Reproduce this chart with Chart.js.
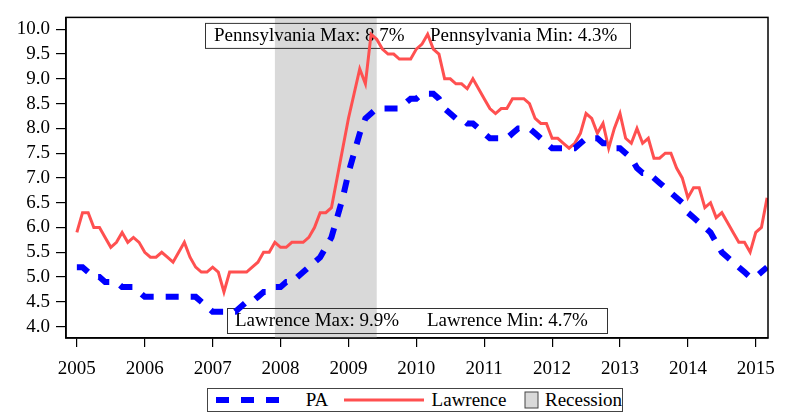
<!DOCTYPE html>
<html>
<head>
<meta charset="utf-8">
<script src="https://cdn.jsdelivr.net/npm/chart.js@4"></script>
<style>
    body { margin: 0; background: #fff; }
    #wrap { position: relative; width: 788px; height: 413px; }
    #legend {
        position: absolute; left: 207px; top: 388px; width: 416px; height: 24px;
        box-sizing: border-box; border: 1px solid #444;
        display: flex; align-items: center;
        font: 19px "Liberation Serif", serif; color: #000;
    }
    #legend span { white-space: nowrap; }
</style>
</head>
<body>
<div id="wrap">
    <canvas id="rateChart" width="788" height="383"></canvas>
    <div id="legend">
        <svg width="70" height="10" style="margin-left:8px"><line x1="0" y1="5" x2="70" y2="5" stroke="#0000ff" stroke-width="6" stroke-dasharray="13 12"/></svg>
        <span style="margin-left:22px">PA</span>
        <svg width="82" height="10" style="margin-left:16px"><line x1="0" y1="5" x2="82" y2="5" stroke="#ff5050" stroke-width="3"/></svg>
        <span style="margin-left:8px">Lawrence</span>
        <svg width="16" height="18" style="margin-left:18px"><rect x="1" y="1" width="13" height="16" fill="#d9d9d9" stroke="#444" stroke-width="1"/></svg>
        <span style="margin-left:5px">Recession</span>
    </div>
</div>
<script>
const startYear = 2005;

// monthly unemployment rate, Jan 2005 - Mar 2015
const paRate = [
    5.2, 5.2, 5.1, 5.0, 5.0, 4.9, 4.9, 4.9, 4.8, 4.8, 4.8, 4.7,
    4.6, 4.6, 4.6, 4.6, 4.6, 4.6, 4.6, 4.6, 4.6, 4.6, 4.5, 4.4,
    4.3, 4.3, 4.3, 4.3, 4.3, 4.4, 4.5, 4.5, 4.6, 4.7, 4.7, 4.8,
    4.8, 4.9, 4.9, 5.0, 5.1, 5.2, 5.3, 5.4, 5.6, 5.8, 6.2, 6.6,
    7.1, 7.5, 7.9, 8.2, 8.3, 8.4, 8.4, 8.4, 8.4, 8.4, 8.5, 8.6,
    8.6, 8.7, 8.7, 8.7, 8.6, 8.4, 8.3, 8.2, 8.2, 8.1, 8.1, 8.0,
    7.9, 7.8, 7.8, 7.8, 7.8, 7.9, 8.0, 8.0, 8.0, 7.9, 7.8, 7.7,
    7.6, 7.6, 7.6, 7.6, 7.6, 7.7, 7.8, 7.8, 7.8, 7.7, 7.7, 7.6,
    7.6, 7.5, 7.4, 7.2, 7.1, 7.1, 7.0, 6.9, 6.8, 6.7, 6.6, 6.5,
    6.3, 6.2, 6.1, 6.0, 5.9, 5.7, 5.5, 5.4, 5.3, 5.2, 5.1, 5.0,
    5.0, 5.1, 5.2
];

const lawrenceRate = [
    5.9, 6.3, 6.3, 6.0, 6.0, 5.8, 5.6, 5.7, 5.9, 5.7, 5.8, 5.7,
    5.5, 5.4, 5.4, 5.5, 5.4, 5.3, 5.5, 5.7, 5.4, 5.2, 5.1, 5.1,
    5.2, 5.1, 4.7, 5.1, 5.1, 5.1, 5.1, 5.2, 5.3, 5.5, 5.5, 5.7,
    5.6, 5.6, 5.7, 5.7, 5.7, 5.8, 6.0, 6.3, 6.3, 6.4, 7.0, 7.6,
    8.2, 8.7, 9.2, 8.9, 9.9, 9.8, 9.6, 9.5, 9.5, 9.4, 9.4, 9.4,
    9.6, 9.7, 9.9, 9.6, 9.5, 9.0, 9.0, 8.9, 8.9, 8.8, 9.0, 8.8,
    8.6, 8.4, 8.3, 8.4, 8.4, 8.6, 8.6, 8.6, 8.5, 8.2, 8.1, 8.1,
    7.8, 7.8, 7.7, 7.6, 7.7, 7.9, 8.3, 8.2, 7.9, 8.1, 7.6, 8.0,
    8.3, 7.8, 7.7, 8.0, 7.7, 7.8, 7.4, 7.4, 7.5, 7.5, 7.2, 7.0,
    6.6, 6.8, 6.8, 6.4, 6.5, 6.2, 6.3, 6.1, 5.9, 5.7, 5.7, 5.5,
    5.9, 6.0, 6.6
];

const yearTicks = [2005, 2006, 2007, 2008, 2009, 2010, 2011, 2012, 2013, 2014, 2015];
const rateTicks = [4.0, 4.5, 5.0, 5.5, 6.0, 6.5, 7.0, 7.5, 8.0, 8.5, 9.0, 9.5, 10.0];

const recessionStart = 2007 + 11 / 12; // Dec 2007
const recessionEnd = 2009 + 5 / 12;    // Jun 2009

const paLabels = ["Pennsylvania Max: 8.7%", "Pennsylvania Min: 4.3%"];
const lawrenceLabels = ["Lawrence Max: 9.9%", "Lawrence Min: 4.7%"];

const serif = '"Liberation Serif", serif';

function toPoints(values) {
    return values.map((v, i) => ({ x: startYear + i / 12, y: v }));
}

const recessionPlugin = {
    id: "recession",
    beforeDatasetsDraw(chart) {
        const { ctx, chartArea, scales } = chart;
        const x1 = scales.x.getPixelForValue(recessionStart);
        const x2 = scales.x.getPixelForValue(recessionEnd);
        ctx.save();
        ctx.fillStyle = "#d9d9d9";
        ctx.fillRect(x1, chartArea.top, x2 - x1, chartArea.bottom - chartArea.top);

        // note boxes, under the lines, no fill
        ctx.font = "19px " + serif;
        ctx.textBaseline = "middle";
        ctx.lineWidth = 1;
        ctx.strokeStyle = "#333";
        ctx.fillStyle = "#000";
        const boxes = [
            { x: 205, y: chartArea.top + 5.5, w: 425, labels: paLabels, tx: [214, 430] },
            { x: 227, y: chartArea.bottom - 30, w: 380, labels: lawrenceLabels, tx: [235, 427] }
        ];
        boxes.forEach((b) => {
            ctx.strokeRect(b.x + 0.5, b.y + 0.5, b.w, 25);
            b.labels.forEach((t, k) => ctx.fillText(t, b.tx[k], b.y + 13.5));
        });
        ctx.restore();
    },
    afterDraw(chart) {
        const { ctx, chartArea } = chart;
        ctx.save();
        ctx.strokeStyle = "#000";
        ctx.lineWidth = 1.5;
        ctx.strokeRect(chartArea.left, chartArea.top, chartArea.right - chartArea.left, chartArea.bottom - chartArea.top);
        ctx.restore();
    }
};

new Chart(document.getElementById("rateChart"), {
    type: "line",
    data: {
        datasets: [{
            label: "PA",
            data: toPoints(paRate),
            borderColor: "#0000ff",
            borderWidth: 6,
            borderDash: [13, 12],
            borderCapStyle: "butt",
            pointRadius: 0,
            tension: 0
        }, {
            label: "Lawrence",
            data: toPoints(lawrenceRate),
            borderColor: "#ff5050",
            borderWidth: 3,
            pointRadius: 0,
            tension: 0
        }]
    },
    options: {
        responsive: false,
        animation: false,
        layout: { padding: { top: 6, right: 20, left: 0, bottom: 0 } },
        plugins: {
            legend: { display: false },
            tooltip: { enabled: false }
        },
        scales: {
            x: {
                type: "linear",
                min: 2004.84,
                max: 2015.18,
                afterBuildTicks: (axis) => { axis.ticks = yearTicks.map((v) => ({ value: v })); },
                afterFit: (axis) => { axis.height = 45; },
                ticks: {
                    callback: (v) => String(v),
                    color: "#000",
                    font: { family: serif, size: 19 },
                    padding: 11,
                    maxRotation: 0
                },
                grid: { drawOnChartArea: false, tickLength: 9, color: "#000", lineWidth: 1.2 },
                border: { color: "#000", width: 1.5 }
            },
            y: {
                min: 3.77,
                max: 10.24,
                afterBuildTicks: (axis) => { axis.ticks = rateTicks.map((v) => ({ value: v })); },
                afterFit: (axis) => { axis.width = 66; },
                ticks: {
                    callback: (v) => v.toFixed(1),
                    color: "#000",
                    font: { family: serif, size: 19 },
                    padding: 6
                },
                grid: { drawOnChartArea: false, tickLength: 10, color: "#000", lineWidth: 1.2 },
                border: { color: "#000", width: 1.5 }
            }
        }
    },
    plugins: [recessionPlugin]
});
</script>
</body>
</html>
